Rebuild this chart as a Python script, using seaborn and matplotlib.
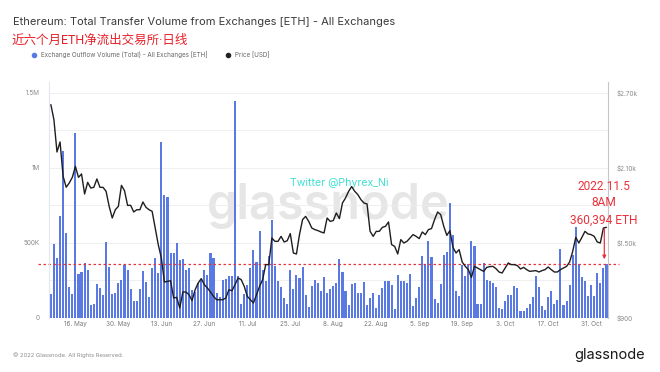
import numpy as np
import pandas as pd
import matplotlib
import matplotlib.pyplot as plt
plt.switch_backend('agg')
from matplotlib.lines import Line2D
import seaborn as sns

import warnings
warnings.filterwarnings('ignore')

# daily values, 8 May .. 5 Nov 2022
start_date = '2022-05-08'
end_date = '2022-11-05'

# exchange outflow volume, thousands of ETH
outflow_k = [
    160, 493, 398, 682, 1113, 564, 209, 158, 1235, 291,
    307, 364, 318, 87, 96, 224, 202, 156, 507, 342,
    158, 164, 236, 253, 351, 320, 193, 116, 111, 193,
    313, 240, 142, 336, 398, 297, 1175, 820, 804, 431,
    431, 502, 387, 391, 320, 331, 187, 176, 231, 253,
    320, 287, 431, 398, 164, 142, 253, 258, 278, 278,
    1444, 278, 93, 160, 222, 333, 455, 371, 578, 322,
    249, 415, 653, 349, 244, 204, 133, 93, 318, 196,
    289, 267, 340, 156, 71, 211, 251, 233, 178, 271,
    167, 196, 211, 233, 396, 304, 178, 84, 227, 233,
    167, 167, 240, 84, 133, 167, 67, 156, 200, 249,
    244, 222, 62, 289, 249, 249, 233, 296, 78, 133,
    204, 411, 360, 515, 407, 129, 100, 227, 422, 440,
    767, 551, 178, 149, 356, 278, 360, 515, 482, 93,
    93, 367, 256, 249, 233, 204, 67, 60, 111, 151,
    151, 211, 200, 44, 44, 67, 93, 138, 278, 207,
    78, 56, 138, 178, 93, 122, 462, 89, 111, 222,
    422, 604, 360, 271, 249, 144, 222, 144, 300, 233,
    333, 360.394,
]

# ETH price, USD
price_usd = [
    2607, 2487, 2228, 2308, 2033, 1946, 1980, 2025, 2113, 2025,
    2052, 1892, 1985, 1940, 1945, 2012, 1945, 1945, 1913, 1793,
    1700, 1766, 1793, 1961, 1918, 1801, 1801, 1748, 1766, 1766,
    1828, 1785, 1766, 1753, 1620, 1486, 1380, 1188, 1193, 1198,
    1060, 1065, 980, 1108, 1108, 1087, 1039, 1126, 1180, 1215,
    1167, 1140, 1108, 1073, 1046, 1046, 1046, 1060, 1126, 1118,
    1167, 1220, 1207, 1153, 1073, 1047, 1020, 1087, 1153, 1207,
    1327, 1327, 1540, 1513, 1513, 1553, 1508, 1518, 1575, 1420,
    1412, 1567, 1687, 1713, 1673, 1620, 1607, 1599, 1588, 1580,
    1700, 1673, 1679, 1740, 1695, 1820, 1860, 1913, 1951, 1913,
    1887, 1847, 1820, 1812, 1593, 1553, 1593, 1593, 1625, 1633,
    1668, 1487, 1473, 1412, 1527, 1500, 1513, 1540, 1567, 1553,
    1535, 1588, 1567, 1607, 1615, 1687, 1748, 1727, 1633, 1561,
    1599, 1465, 1420, 1447, 1348, 1313, 1287, 1225, 1313, 1300,
    1287, 1273, 1305, 1311, 1313, 1295, 1268, 1260, 1300, 1340,
    1327, 1327, 1319, 1292, 1305, 1287, 1273, 1276, 1279, 1268,
    1279, 1287, 1308, 1287, 1268, 1268, 1287, 1300, 1313, 1348,
    1433, 1545, 1500, 1545, 1593, 1572, 1567, 1553, 1508, 1500,
    1620, 1625,
]

latest_outflow = 360394

tick_dates = ['2022-05-16', '2022-05-30', '2022-06-13', '2022-06-27', '2022-07-11',
              '2022-07-25', '2022-08-08', '2022-08-22', '2022-09-05', '2022-09-19',
              '2022-10-03', '2022-10-17', '2022-10-31']
tick_labels = ['16. May', '30. May', '13. Jun', '27. Jun', '11. Jul', '25. Jul', '8. Aug',
               '22. Aug', '5. Sep', '19. Sep', '3. Oct', '17. Oct', '31. Oct']

vol_ticks = [0, 250e3, 500e3, 750e3, 1000e3, 1250e3, 1500e3]
vol_labels = ['0', '', '500K', '', '1M', '', '1.5M']
price_ticks = [900, 1500, 2100, 2700]
price_labels = ['$900', '$1.50k', '$2.10k', '$2.70k']

dates = pd.date_range(start_date, end_date, freq='D')
df = pd.DataFrame({'date': dates,
                   'outflow': np.array(outflow_k) * 1000,
                   'price': price_usd})
df['pos'] = (df['date'] - dates[0]).dt.days
tick_pos = (pd.to_datetime(tick_dates) - dates[0]).days

sns.set_style('white')
plt.rcParams['font.family'] = ['Inter', 'DejaVu Sans']

bar_color = '#5a79e3'
red = '#e8323c'
W, H = 660, 372

fig = plt.figure(figsize=(6.6, 3.72), dpi=100)
ax = fig.add_axes([49 / W, 54 / H, 559 / W, 236 / H])

sns.barplot(data=df, x='pos', y='outflow', native_scale=True, color=bar_color,
            saturation=1, width=0.68, errorbar=None, linewidth=0, ax=ax, zorder=2)

ax.axhline(latest_outflow, xmin=-0.02, xmax=1.02, clip_on=False, color=red,
           lw=0.9, ls=(0, (2, 2)), zorder=5)

ax.text(0.5, 0.475, 'glassnode', transform=ax.transAxes, ha='center', va='center',
        fontsize=35, fontweight='semibold', color='#e6e6e6', zorder=0)
ax.text(0.52, 0.57, 'Twitter @Phyrex_Ni', transform=ax.transAxes, ha='center',
        va='center', fontsize=7.6, color='#3ee0d2', zorder=6)

ymax = 1573e3
ax.set_ylim(0, ymax)
ax.set_xlim(-0.6, 181.5)
ax.set_yticks(vol_ticks)
ax.set_yticklabels(vol_labels)
ax.set_xticks(tick_pos)
ax.set_xticklabels(tick_labels)
ax.yaxis.grid(True, color='#ededed', lw=0.6, zorder=0)
ax.set_axisbelow(True)
ax.tick_params(axis='y', length=0, pad=6.5, labelsize=4.6, labelcolor='#8a8a8a')
ax.tick_params(axis='x', length=0, pad=2.5, labelsize=4.6, labelcolor='#7a7a7a')
ax.set_xlabel('')
ax.set_ylabel('')
for s in ax.spines.values():
    s.set_visible(False)

ax2 = ax.twinx()
sns.lineplot(data=df, x='pos', y='price', ax=ax2, color='#1e1e1e', linewidth=1.0,
             legend=False)
ax2.set_ylim(900, 900 + ymax * 600 / 500e3)
ax2.set_yticks(price_ticks)
ax2.set_yticklabels(price_labels)
ax2.tick_params(axis='y', length=0, pad=6.5, labelsize=4.6, labelcolor='#8a8a8a')
ax2.set_ylabel('')
ax2.set_xlabel('')
ax2.spines['top'].set_visible(False)
ax2.spines['bottom'].set_visible(False)
ax2.spines['left'].set_color('#e2e6f0')
ax2.spines['left'].set_linewidth(0.8)
ax2.spines['right'].set_color('#c6c6c6')
ax2.spines['right'].set_linewidth(0.8)

ax2.annotate('', xy=(180.3, 373e3 * 600 / 500e3 + 900), xytext=(180.3, 613e3 * 600 / 500e3 + 900),
             arrowprops=dict(arrowstyle='-|>', color=red, lw=0.9, mutation_scale=5))

# annotation text
for txt, yy in [('2022.11.5', 187), ('8AM', 203), ('360,394 ETH', 220)]:
    fig.text(604 / W, 1 - yy / H, txt, ha='center', va='center', fontsize=8.6,
             color=red, family=['Roboto', 'DejaVu Sans'])

# titles
fig.text(13 / W, 1 - 22 / H, 'Ethereum: Total Transfer Volume from Exchanges [ETH] - All Exchanges',
         ha='left', va='center', fontsize=8.0, color='#3a3a3a')
fig.text(12 / W, 1 - 40 / H, '近六个月ETH净流出交易所·日线', ha='left', va='center',
         fontsize=9, color='#e8202a', family=['Roboto', 'Noto Sans CJK SC'])

handles = [Line2D([], [], marker='o', ls='', color=bar_color, markersize=3),
           Line2D([], [], marker='o', ls='', color='#222222', markersize=3)]
fig.legend(handles, ['Exchange Outflow Volume (Total) - All Exchanges [ETH]', 'Price [USD]'],
           loc='center left', bbox_to_anchor=(28 / W, 1 - 55 / H), ncol=2, frameon=False,
           fontsize=4.5, handletextpad=0.1, columnspacing=2.2, labelcolor='#666666',
           borderaxespad=0, borderpad=0)

# footer
fig.text(13 / W, 1 - 355 / H, '© 2022 Glassnode. All Rights Reserved.', ha='left',
         va='center', fontsize=4.2, color='#8a8a8a')
fig.text(645 / W, 1 - 355 / H, 'glassnode', ha='right', va='center', fontsize=10.5,
         color='#1a1a1a')

fig.savefig('out.png', dpi=100)
